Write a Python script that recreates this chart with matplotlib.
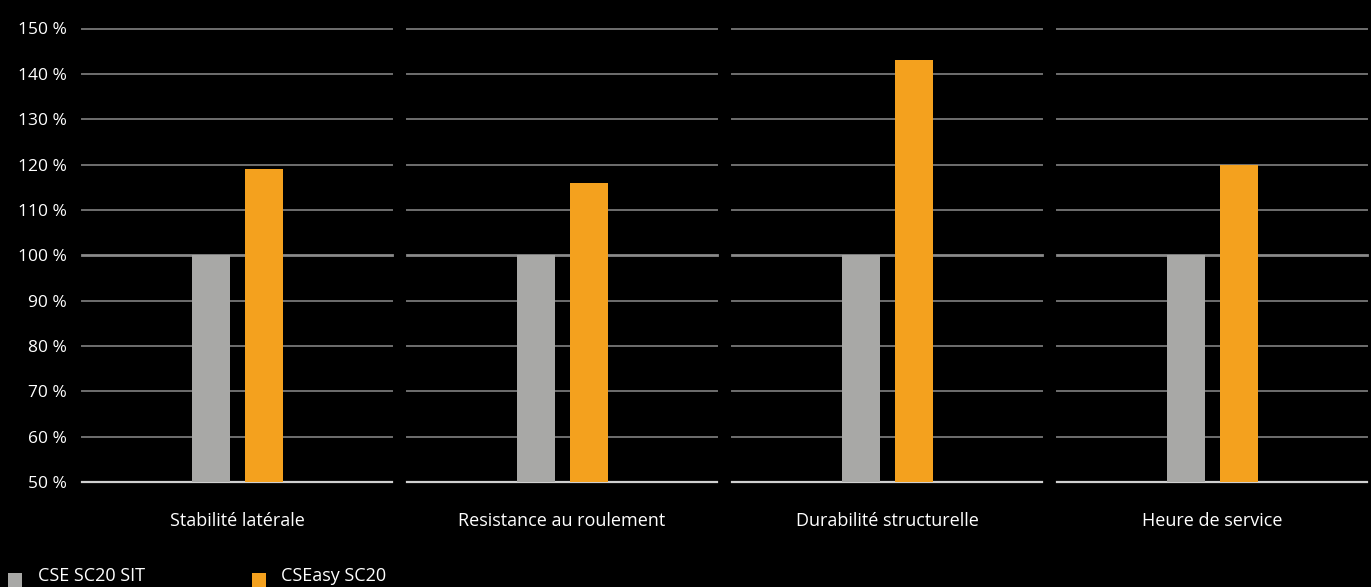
import matplotlib
matplotlib.use("Agg")
import matplotlib.pyplot as plt
from matplotlib.patches import Rectangle

categories = ["Stabilité latérale", "Resistance au roulement", "Durabilité structurelle", "Heure de service"]
series_names = ["CSE SC20 SIT", "CSEasy SC20"]
cse_values = [100, 100, 100, 100]
easy_values = [119, 116, 143, 120]
y_ticks = [50, 60, 70, 80, 90, 100, 110, 120, 130, 140, 150]
y_labels = [f"{v} %" for v in y_ticks]

GRAY = "#A8A8A6"
ORANGE = "#F4A11E"
BG = "#000000"

plt.rcParams['font.family'] = ['Open Sans', 'DejaVu Sans']

W, H = 1371, 587
fig = plt.figure(figsize=(W / 100, H / 100), dpi=100, facecolor=BG)

left0 = 82
pw = 310
gap = 15
top_px = 28.5
bot_px = 482

for i, cat in enumerate(categories):
    x0 = left0 + i * (pw + gap)
    ax = fig.add_axes([x0 / W, 1 - bot_px / H, pw / W, (bot_px - top_px) / H])
    ax.set_facecolor(BG)
    ax.set_xlim(0, 1)
    ax.set_ylim(50, 150)
    for s in ax.spines.values():
        s.set_visible(False)
    ax.set_xticks([])
    for v in y_ticks:
        if v == 50:
            ax.axhline(v, color="#d0d0d0", lw=1.6, zorder=1, clip_on=False)
        elif v == 100:
            ax.axhline(v, color="#8a8a8a", lw=2.0, zorder=1, clip_on=False)
        else:
            ax.axhline(v, color="#6f6f6f", lw=1.4, zorder=1, clip_on=False)
    bw = 38 / pw
    ax.bar([(192 - 82 + 19) / pw], [cse_values[i] - 50], bottom=50, width=bw, color=GRAY, zorder=3)
    ax.bar([(245 - 82 + 19) / pw], [easy_values[i] - 50], bottom=50, width=bw, color=ORANGE, zorder=3)
    ax.text(0.5, -39 / (bot_px - top_px), cat, transform=ax.transAxes, ha="center", va="center",
            color="#ffffff", fontsize=13)
    if i == 0:
        ax.set_yticks(y_ticks)
        ax.set_yticklabels(y_labels, color="#ffffff", fontsize=12.5)
        ax.tick_params(axis="y", length=0, pad=11)
    else:
        ax.set_yticks([])

# legend
legend_items = [(8, 38, GRAY, series_names[0]), (252, 281, ORANGE, series_names[1])]
for sx, tx, col, name in legend_items:
    fig.patches.append(Rectangle((sx / W, 1 - 587 / H), 14 / W, 14 / H, transform=fig.transFigure,
                                 facecolor=col, edgecolor="none"))
    fig.text(tx / W, 1 - 576 / H, name, color="#ffffff", fontsize=13, ha="left", va="center")

fig.savefig("out.png", dpi=100, facecolor=BG)
